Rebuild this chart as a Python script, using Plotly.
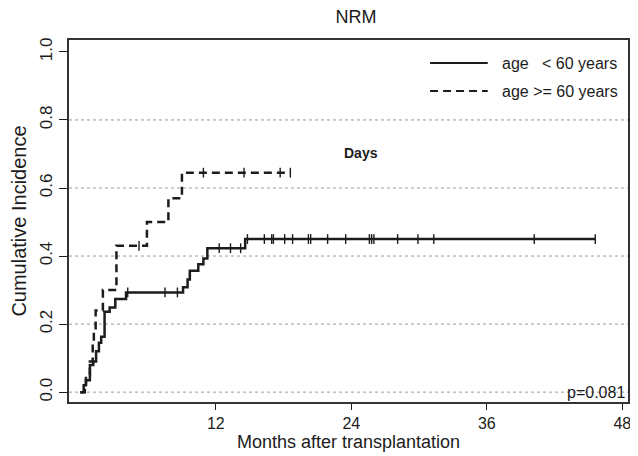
import numpy as np
import plotly.graph_objects as go

# ---- data ----
solid_label = "age\u00a0\u00a0\u00a0< 60 years"
dashed_label = "age >= 60 years"

# age < 60 years: step times (months) and cumulative incidence
young_t = [0, 0.3, 0.5, 0.85, 1.15, 1.4, 1.65, 1.85, 2.15, 2.6, 3.1, 4.05,
           9.1, 9.5, 9.7, 10.45, 10.9, 11.25, 14.6, 45.6]
young_v = [0, 0.02, 0.035, 0.08, 0.09, 0.12, 0.145, 0.163, 0.236, 0.249, 0.274, 0.293,
           0.308, 0.331, 0.357, 0.376, 0.393, 0.423, 0.45, 0.45]
young_censor = [4.2, 7.5, 8.6, 12.3, 13.3, 14.2, 14.8, 16.3, 16.95, 17.1, 18.1, 18.8,
                20.2, 20.4, 21.9, 23.5, 25.6, 25.8, 26.0, 28.1, 29.9, 31.3, 40.2, 45.6]

# age >= 60 years
old_t = [0, 0.4, 0.5, 0.85, 1.1, 1.2, 1.36, 2.0, 3.2, 5.9, 7.8, 9.0, 18.6]
old_v = [0, 0.02, 0.05, 0.09, 0.145, 0.18, 0.24, 0.30, 0.43, 0.50, 0.57, 0.645, 0.645]
old_censor = [5.2, 10.9, 14.5, 17.7, 18.6]

x_ticks = [12, 24, 36, 48]
y_ticks = [0.0, 0.2, 0.4, 0.6, 0.8, 1.0]
y_tick_text = ["0.0", "0.2", "0.4", "0.6", "0.8", "1.0"]
grid_levels = [0.0, 0.2, 0.4, 0.6, 0.8]

title_text = "NRM"
x_title = "Months after transplantation"
y_title = "Cumulative Incidence"
note_days = "Days"
p_text = "p=0.081"

FONT = "Liberation Sans, Arial, sans-serif"
INK = "#1c1c1c"

# the page body has an 8px default margin, so the figure is sized to fit
OFF = 8
W, H = 638 - OFF, 456 - OFF
L, R, T, B = 61, 7, 32, 54


def step_at(ts, vs, x):
    idx = np.searchsorted(np.array(ts), np.array(x), side="right") - 1
    return [vs[i] for i in idx]


fig = go.Figure()

fig.add_trace(go.Scatter(
    x=young_t, y=young_v, mode="lines", line_shape="hv",
    line=dict(color=INK, width=2.5), name=solid_label, showlegend=False))
fig.add_trace(go.Scatter(
    x=old_t, y=old_v, mode="lines", line_shape="hv",
    line=dict(color=INK, width=2.5, dash="8px,5px"), name=dashed_label,
    showlegend=False))

fig.add_trace(go.Scatter(
    x=young_censor, y=step_at(young_t, young_v, young_censor), mode="markers",
    marker=dict(symbol="line-ns", size=7, line=dict(color=INK, width=1.4)),
    showlegend=False, hoverinfo="skip"))
fig.add_trace(go.Scatter(
    x=old_censor, y=step_at(old_t, old_v, old_censor), mode="markers",
    marker=dict(symbol="line-ns", size=7, line=dict(color=INK, width=1.4)),
    showlegend=False, hoverinfo="skip"))

for g in grid_levels:
    fig.add_shape(type="line", xref="paper", x0=0, x1=1, yref="y", y0=g, y1=g,
                  line=dict(color="#9a9a9a", width=1, dash="dot"), layer="below")

# legend (drawn to match the long line samples of the original)
pw = W - L - R
ph = H - T - B


def px_x(page_x):
    return (page_x - OFF - L) / pw


def px_y(page_y):
    return (H - B - (page_y - OFF)) / ph


legend_rows = [(solid_label, "solid", 63), (dashed_label, "8px,5px", 91)]
for label, dash, ypx in legend_rows:
    fig.add_shape(type="line", xref="paper", yref="paper",
                  x0=px_x(432), x1=px_x(490), y0=px_y(ypx), y1=px_y(ypx),
                  line=dict(color=INK, width=2, dash=dash))
    fig.add_annotation(x=px_x(502), y=px_y(ypx), xref="paper", yref="paper",
                       text=label, xanchor="left", yanchor="middle", showarrow=False,
                       font=dict(family=FONT, size=16, color=INK))

fig.add_annotation(x=24.9, y=0.703, xref="x", yref="y", text="<b>" + note_days + "</b>",
                   showarrow=False, font=dict(family=FONT, size=14, color=INK))
fig.add_annotation(x=1, y=0, xref="paper", yref="y", text=p_text, xanchor="right",
                   yanchor="middle", xshift=-1, showarrow=False,
                   font=dict(family=FONT, size=16, color=INK))

fig.update_layout(
    width=W, height=H,
    margin=dict(l=L, r=R, t=T, b=B),
    paper_bgcolor="white", plot_bgcolor="white",
    font=dict(family=FONT, size=15, color=INK),
    title=dict(text=title_text, x=(356 - OFF) / W, xref="container",
               y=1 - (17 - OFF) / H, yref="container", yanchor="middle",
               xanchor="center", font=dict(family=FONT, size=18, color=INK)),
    showlegend=False,
    xaxis=dict(range=[-1.0, 48.5], tickvals=x_ticks, ticks="outside", ticklen=6,
               tickcolor=INK, showgrid=False, zeroline=False, showline=True,
               linecolor="#333333", linewidth=1.5, mirror=True,
               ticklabeloverflow="allow",
               title=dict(text=x_title, standoff=4, font=dict(size=18)),
               tickfont=dict(size=16)),
    yaxis=dict(range=[-0.029, 1.035], tickvals=y_ticks, ticktext=y_tick_text,
               tickangle=-90, ticks="outside", ticklen=8, tickcolor=INK,
               showgrid=False, zeroline=False, showline=True,
               linecolor="#333333", linewidth=1.5, mirror=True,
               title=dict(text=y_title, standoff=6, font=dict(size=20)),
               tickfont=dict(size=17)),
)

fig.write_html("out.html")
